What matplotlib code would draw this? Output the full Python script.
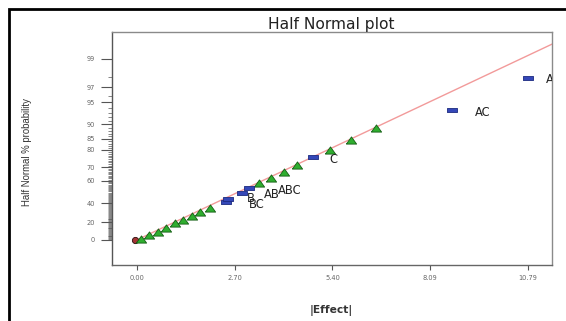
import numpy as np
import matplotlib
matplotlib.use("Agg")
import matplotlib.pyplot as plt
from matplotlib.patches import Rectangle
from matplotlib.ticker import FixedLocator, NullFormatter
from statistics import NormalDist

# ---------------- data ----------------
err_effect = [0.11, 0.34, 0.58, 0.81, 1.05, 1.29, 1.52, 1.76, 2.01,
              3.38, 3.71, 4.07, 4.43, 5.33, 5.90, 6.61]
err_prob = [0.7, 5.3, 9.4, 13.6, 18.7, 22.4, 27.1, 31.3, 35.5,
            58.0, 62.0, 66.7, 71.4, 80.0, 84.5, 89.0]

term_names = ["BC", "B", "AB", "ABC", "C", "AC", "A"]
term_effect = [2.45, 2.53, 2.90, 3.10, 4.87, 8.70, 10.79]
term_prob = [41.5, 44.4, 49.9, 53.8, 76.2, 93.6, 97.9]

zero_effect = [-0.05]
zero_prob = [0.0]

line_effect = [0.0, 11.45]
line_prob = [0.0, 99.465]

xticks = [0.00, 2.70, 5.40, 8.09, 10.79]
xticklabels = ["0.00", "2.70", "5.40", "8.09", "10.79"]
yticks = [0, 20, 40, 60, 70, 80, 85, 90, 95, 97, 99]

# label offsets in pixels (dx right, dy down) from each term marker
label_offsets = {"BC": (31, 2.6), "B": (22.5, 0.0), "AB": (30, 1.6),
                 "ABC": (41, 2.4), "C": (20, 2.0), "AC": (31, 2.3),
                 "A": (22, 2.0)}

# ---------------- half-normal probability scale ----------------
_nd = NormalDist()
_f = np.vectorize(lambda v: _nd.inv_cdf(0.5 + v / 200.0), otypes=[float])
_i = np.vectorize(lambda v: (2.0 * _nd.cdf(v) - 1.0) * 100.0, otypes=[float])


def fwd(p):
    p = np.clip(np.asarray(p, dtype=float), -99.9999, 99.9999)
    return _f(p)


def inv(z):
    return _i(np.asarray(z, dtype=float))


W, H = 566, 321
DPI = 100
fig = plt.figure(figsize=(W / DPI, H / DPI), dpi=DPI)
fig.patch.set_facecolor("white")

# outer black frame (extends beyond right/bottom edge)
fig.patches.append(Rectangle((9 / W, -0.1), 1.2, 1 - 9 / H + 0.1,
                             transform=fig.transFigure, fill=False,
                             edgecolor="black", linewidth=2.0, clip_on=False))

ax = fig.add_axes([111.7 / W, 1 - 265 / H, (551.7 - 111.7) / W, (265 - 32.3) / H])
ax.set_yscale("function", functions=(fwd, inv))
ax.set_xlim(-0.69, 11.45)
ax.set_ylim(-27.82, 99.688)

for s in ax.spines.values():
    s.set_color("#8a8a8a")
    s.set_linewidth(1.0)
ax.spines["left"].set_color("#555555")
ax.spines["bottom"].set_color("#666666")

# fit line
ax.plot(line_effect, line_prob, color="#f29a9a", lw=1.0, zorder=2)

# zero point
ax.plot(zero_effect, zero_prob, linestyle="none", marker="o", ms=4.5,
        mfc="#a33535", mec="#2a0a0a", mew=0.6, zorder=3)

tri = [(-1, -0.7), (1, -0.7), (0, 0.7), (-1, -0.7)]
ax.plot(err_effect, err_prob, linestyle="none", marker=tri, ms=7.4,
        mfc="#2fae2f", mec="#145c14", mew=0.6, zorder=4)

rect = [(-1, -0.5), (1, -0.5), (1, 0.5), (-1, 0.5), (-1, -0.5)]
ax.plot(term_effect, term_prob, linestyle="none", marker=rect, ms=6.6,
        mfc="#3447b8", mec="#1b2a80", mew=0.6, zorder=5)

for name, e, p in zip(term_names, term_effect, term_prob):
    dx, dy = label_offsets[name]
    ax.annotate(name, (e, p), xytext=(dx * 0.72, -dy * 0.72),
                textcoords="offset points", ha="center", va="center",
                fontsize=8.3, color="#222222", family="DejaVu Sans",
                annotation_clip=False, clip_on=True, zorder=6)

# ticks
ax.set_xticks(xticks)
ax.set_xticklabels(xticklabels)
ax.yaxis.set_major_locator(FixedLocator(yticks))
ax.set_yticklabels([str(t) for t in yticks])
minor = [v for v in range(1, 99) if v not in yticks]
ax.yaxis.set_minor_locator(FixedLocator(minor))
ax.yaxis.set_minor_formatter(NullFormatter())
ax.xaxis.set_minor_locator(FixedLocator([]))

ax.tick_params(axis="x", which="major", direction="out", length=3.6,
               width=0.8, color="#555555", pad=3.4, labelsize=4.8,
               labelcolor="#666666", top=False)
ax.tick_params(axis="y", which="major", direction="out", length=7.9,
               width=0.8, color="#555555", pad=4.0, labelsize=4.8,
               labelcolor="#666666", right=False)
ax.tick_params(axis="y", which="minor", direction="out", length=2.9,
               width=0.5, color="#555555", right=False)

# texts
fig.text(331 / W, 1 - 29 / H, "Half Normal plot", ha="center", va="baseline",
         fontsize=11.2, family="DejaVu Sans", color="#222222")
fig.text(330.8 / W, 1 - 310.7 / H, "|Effect|", ha="center", va="center",
         fontsize=7.7, fontweight="bold", family="DejaVu Sans", color="#333333")
fig.text(27.5 / W, 1 - 152.5 / H, "Half Normal % probability", rotation=90,
         ha="center", va="center", fontsize=6.9, family="Liberation Sans",
         color="#333333")

fig.savefig("out.png", dpi=DPI, facecolor="white")
